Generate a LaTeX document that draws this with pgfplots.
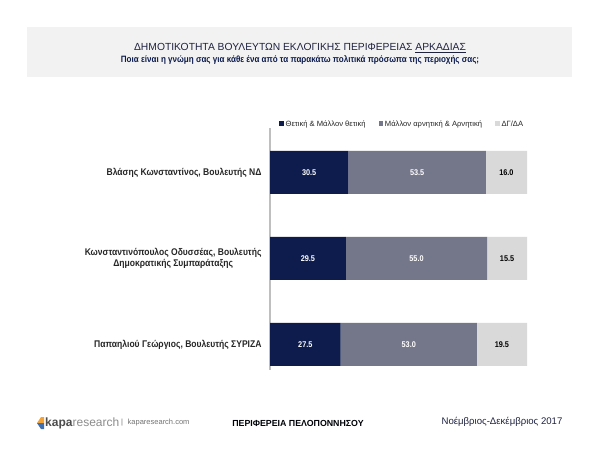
\documentclass[border=0pt]{standalone}
\usepackage{pgfplots}
\pgfplotsset{compat=1.18}
\usepackage{fontspec}
\setmainfont{Liberation Sans}[FakeStretch=0.88]
\newfontfamily\plainsans{Liberation Sans}
\definecolor{navy}{HTML}{0D1C4D}
\definecolor{midgray}{HTML}{747689}
\definecolor{lightgray}{HTML}{D9D9D9}
\definecolor{boxgray}{HTML}{F2F2F2}
\definecolor{axgray}{HTML}{BFBFBF}
\definecolor{txt}{HTML}{262626}
\definecolor{titlecol}{HTML}{1F2340}
\definecolor{logoorange}{HTML}{F2A33A}
\definecolor{logoblue}{HTML}{3E6FB0}
\begin{document}
\begin{tikzpicture}
\useasboundingbox (0pt,0pt) rectangle (600pt,-464pt);
\fill[white] (0pt,0pt) rectangle (600pt,-464pt);
% title box
\fill[boxgray] (27pt,-27pt) rectangle (572pt,-77pt);
\node[text=titlecol,font=\plainsans\fontsize{10.3}{12}\selectfont] at (300pt,-48pt) {ΔΗΜΟΤΙΚΟΤΗΤΑ ΒΟΥΛΕΥΤΩΝ ΕΚΛΟΓΙΚΗΣ ΠΕΡΙΦΕΡΕΙΑΣ \underline{ΑΡΚΑΔΙΑΣ}};
\node[text=navy,font=\bfseries\fontsize{9.15}{11}\selectfont] at (300pt,-60pt) {Ποια είναι η γνώμη σας για κάθε ένα από τα παρακάτω πολιτικά πρόσωπα της περιοχής σας;};

\begin{axis}[
  at={(270pt,-128pt)}, anchor=north west,
  scale only axis, width=257pt, height=242pt,
  xbar stacked, bar width=0.5,
  xmin=0, xmax=100,
  ymin=-0.517, ymax=2.297, y dir=reverse,
  ytick={0,1,2},
  yticklabels={{Βλάσης Κωνσταντίνος, Βουλευτής ΝΔ},{Κωνσταντινόπουλος Οδυσσέας, Βουλευτής\\Δημοκρατικής Συμπαράταξης},{Παπαηλιού Γεώργιος, Βουλευτής ΣΥΡΙΖΑ}},
  yticklabel style={align=center, text=txt, font=\bfseries\fontsize{9.7}{11.5}\selectfont, xshift=-5pt},
  major tick length=0pt,
  hide x axis,
  axis y line*=left,
  y axis line style={draw=axgray, line width=2.5pt, -},
  /pgf/number format/assume math mode=true,
  nodes near coords={\pgfmathprintnumber[fixed,fixed zerofill,precision=1]{\pgfplotspointmeta}},
  every node near coord/.append style={font=\bfseries\fontsize{8.3}{9}\selectfont},
  legend columns=3,
  legend style={at={(0.035,1.012)}, anchor=west, draw=none, fill=none,
     font=\plainsans\fontsize{7.6}{8}\selectfont, text=txt, inner sep=0pt,
     nodes={text height=5.5pt, text depth=1.8pt},
     /tikz/every even column/.append style={column sep=11pt}},
  legend image code/.code={\fill[#1] (0pt,-0.6pt) rectangle (4.4pt,3.8pt);},
]
\addplot[fill=navy, draw=none, every node near coord/.append style={text=white}] coordinates {(30.5,0) (29.5,1) (27.5,2)};
\addlegendentry{Θετική \& Μάλλον θετική}
\addplot[fill=midgray, draw=none, every node near coord/.append style={text=white}] coordinates {(53.5,0) (55.0,1) (53.0,2)};
\addlegendentry{Μάλλον αρνητική \& Αρνητική}
\addplot[fill=lightgray, draw=none, every node near coord/.append style={text=black}] coordinates {(16.0,0) (15.5,1) (19.5,2)};
\addlegendentry{ΔΓ/ΔΑ}
\end{axis}

% footer
\fill[logoorange] (41pt,-417pt) -- (44pt,-417pt) -- (44pt,-423pt) -- (37pt,-423pt) -- cycle;
\fill[logoblue] (37pt,-423pt) -- (44pt,-423pt) -- (44pt,-429pt) -- (41pt,-429pt) -- cycle;
\node[anchor=west, inner sep=0pt, font=\plainsans\fontsize{12}{13}\selectfont] at (45pt,-423pt) {\textcolor{black!70}{\textbf{kapa}}\textcolor{black!45}{research}};
\node[anchor=west, inner sep=0pt, text=black!55, font=\plainsans\fontsize{7.5}{9}\selectfont] at (121pt,-423pt) {|\,\, kaparesearch.com};
\node[text=black!90!navy, font=\plainsans\bfseries\fontsize{8.8}{10}\selectfont] at (298pt,-423pt) {ΠΕΡΙΦΕΡΕΙΑ ΠΕΛΟΠΟΝΝΗΣΟΥ};
\node[text=titlecol, font=\plainsans\fontsize{9.6}{11}\selectfont] at (502pt,-422pt) {Νοέμβριος-Δεκέμβριος 2017};
\end{tikzpicture}
\end{document}
